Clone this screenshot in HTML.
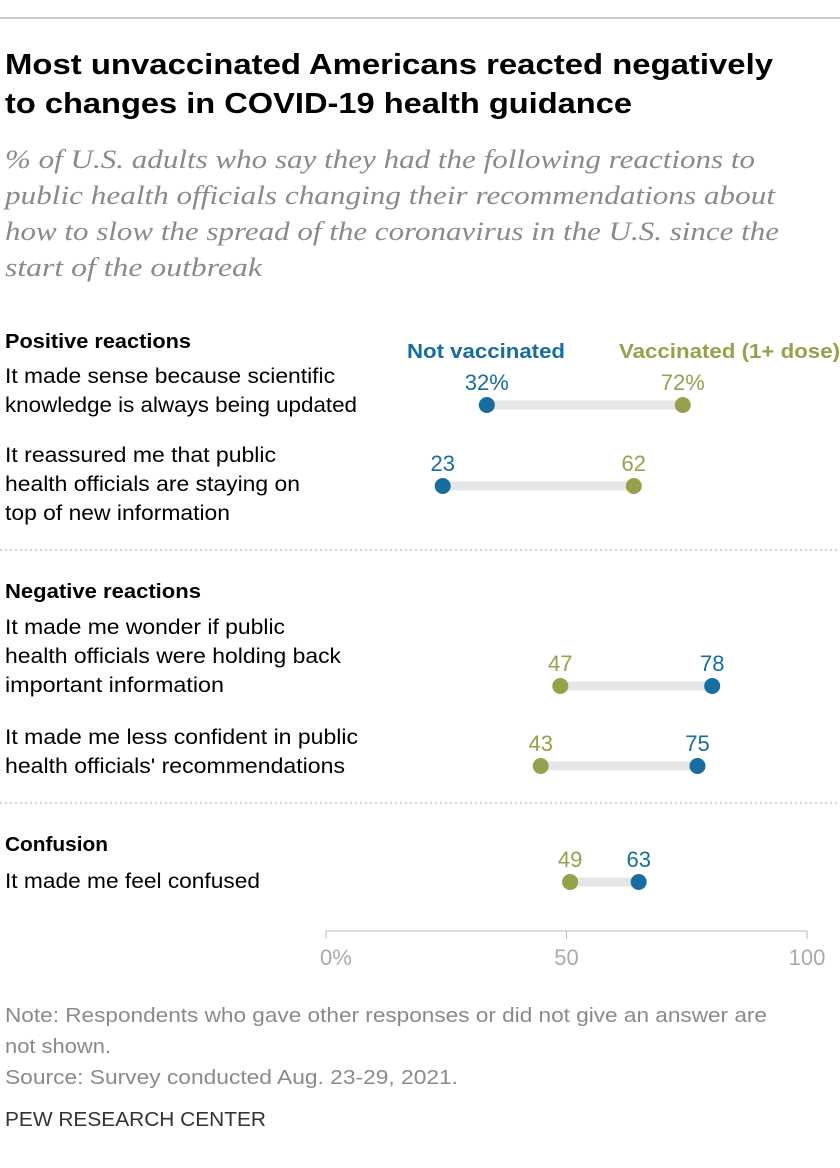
<!DOCTYPE html>
<html><head><meta charset="utf-8"><style>
html,body{margin:0;padding:0;background:#fff;}
svg{display:block;}
text{font-family:"Liberation Sans",sans-serif;}
</style></head><body>
<svg id="chart" width="840" height="1168" viewBox="0 0 840 1168">
<line x1="0" y1="18" x2="840" y2="18" stroke="#999" stroke-width="1"/>
<g font-size="29" font-weight="bold" fill="#000">
<text x="5" y="74" textLength="768" lengthAdjust="spacingAndGlyphs">Most unvaccinated Americans reacted negatively</text>
<text x="5" y="113" textLength="627" lengthAdjust="spacingAndGlyphs">to changes in COVID-19 health guidance</text>
</g>
<g font-size="26" font-style="italic" fill="#8a8a8a">
<text x="5" y="168" textLength="750" lengthAdjust="spacingAndGlyphs" style="font-family:'Liberation Serif',serif">% of U.S. adults who say they had the following reactions to</text>
<text x="5" y="204" textLength="770" lengthAdjust="spacingAndGlyphs" style="font-family:'Liberation Serif',serif">public health officials changing their recommendations about</text>
<text x="5" y="240" textLength="774" lengthAdjust="spacingAndGlyphs" style="font-family:'Liberation Serif',serif">how to slow the spread of the coronavirus in the U.S. since the</text>
<text x="5" y="276" textLength="257" lengthAdjust="spacingAndGlyphs" style="font-family:'Liberation Serif',serif">start of the outbreak</text>
</g>
<g font-size="20" font-weight="bold">
<text x="407" y="358" fill="#176ca0" textLength="158" lengthAdjust="spacingAndGlyphs">Not vaccinated</text>
<text x="619" y="358" fill="#97a04a" textLength="221" lengthAdjust="spacingAndGlyphs">Vaccinated (1+ dose)</text>
</g>
<g font-size="20" font-weight="bold" fill="#000">
<text x="5" y="348" textLength="186" lengthAdjust="spacingAndGlyphs">Positive reactions</text>
<text x="5" y="598" textLength="196" lengthAdjust="spacingAndGlyphs">Negative reactions</text>
<text x="5" y="851" textLength="103" lengthAdjust="spacingAndGlyphs">Confusion</text>
</g>
<line x1="0" y1="550" x2="840" y2="550" stroke="#aaa" stroke-dasharray="2,3"/>
<line x1="0" y1="803" x2="840" y2="803" stroke="#aaa" stroke-dasharray="2,3"/>
<g id="rows"></g>
<g id="axis"></g>
<g font-size="20" fill="#8a8a8a">
<text x="5" y="1022" textLength="762" lengthAdjust="spacingAndGlyphs">Note: Respondents who gave other responses or did not give an answer are</text>
<text x="5" y="1053" textLength="106" lengthAdjust="spacingAndGlyphs">not shown.</text>
<text x="5" y="1084" textLength="453" lengthAdjust="spacingAndGlyphs">Source: Survey conducted Aug. 23-29, 2021.</text>
</g>
<text x="5" y="1126" font-size="20" fill="#333" textLength="261" lengthAdjust="spacingAndGlyphs">PEW RESEARCH CENTER</text>
</svg>
<script>
const categories = [
 ["It made sense because scientific","knowledge is always being updated"],
 ["It reassured me that public","health officials are staying on","top of new information"],
 ["It made me wonder if public","health officials were holding back","important information"],
 ["It made me less confident in public","health officials' recommendations"],
 ["It made me feel confused"]
];
const notVaccinated = [32, 23, 78, 75, 63];
const vaccinated = [72, 62, 47, 43, 49];
const tickValues = [0, 50, 100];
const tickLabels = ["0%", "50", "100"];

const NS = "http://www.w3.org/2000/svg";
const rowY = [405, 486, 686, 766, 882];
const labelTop = [383, 462, 634, 744, 888];
const labelWidths = [[330,352],[271,295,225],[280,336,219],[353,340],[255]];
const BLUE = "#176ca0", OLIVE = "#97a04a";
function x(v){ return 330 + 4.9 * v; }
function ax(v){ return 326 + 4.81 * v; }
function mk(tag, attrs, parent){ const e=document.createElementNS(NS,tag); for(const k in attrs) e.setAttribute(k, attrs[k]); parent.appendChild(e); return e; }
const rows = document.getElementById("rows");
categories.forEach((lines, i) => {
  const g = mk("g", {}, rows);
  
  
  lines.forEach((ln, j) => {
    const t = mk("text", {x:5, y:labelTop[i] + j*29, "font-size":21, fill:"#000", textLength:labelWidths[i][j], lengthAdjust:"spacingAndGlyphs"}, g);
    t.textContent = ln;
    
    
  });
  const a = notVaccinated[i], b = vaccinated[i];
  const bar = mk("line", {x1:x(Math.min(a,b)), x2:x(Math.max(a,b)), y1:rowY[i], y2:rowY[i], stroke:"#e5e6e7", "stroke-width":9}, g);
  
  
  [[a, BLUE, 'dot-not-vaccinated'], [b, OLIVE, 'dot-vaccinated']].forEach(([v, c, nm]) => {
    const d = mk("circle", {cx:x(v), cy:rowY[i], r:8, fill:c}, g);
    
    
    const t = mk("text", {x:x(v), y:rowY[i]-15, "font-size":22, fill:c, "text-anchor":"middle"}, g);
    t.textContent = i === 0 ? v + "%" : String(v);
    
    
  });
});
const axis = document.getElementById("axis");
const al = mk("line", {x1:ax(0), x2:ax(100), y1:931, y2:931, stroke:"#bbb", "stroke-width":1}, axis);


tickValues.forEach((v, i) => {
  const tk = mk("line", {x1:ax(v), x2:ax(v), y1:931, y2:939, stroke:"#bbb"}, axis);
  
  
  const t = mk("text", {x: i===0 ? ax(v)-6 : ax(v), y:965, "font-size":22, fill:"#aaa", "text-anchor": i===0 ? "start" : "middle"}, axis);
  t.textContent = tickLabels[i];
  
  
});
</script>
</body></html>
